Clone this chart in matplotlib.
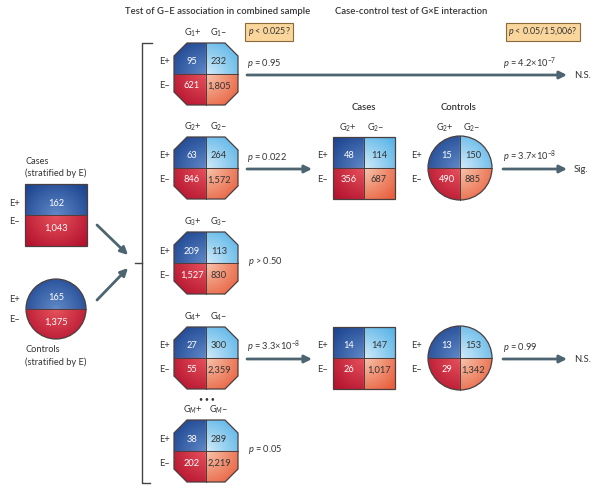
import numpy as np
import matplotlib
matplotlib.use("Agg")
import matplotlib.pyplot as plt
from matplotlib.patches import Polygon, Rectangle, Circle
from matplotlib.colors import to_rgb

plt.rcParams['font.family'] = ['Lato', 'DejaVu Sans']
plt.rcParams['mathtext.fontset'] = 'custom'
plt.rcParams['mathtext.rm'] = 'Lato'
plt.rcParams['mathtext.it'] = 'Lato:italic'

# stratified totals (E+, E-)
cases_by_E = [162, 1043]
controls_by_E = [165, 1375]

# combined-sample 2x2 tables: [E+G+, E+G-, E-G+, E-G-]
genes = ['1', '2', '3', '4', 'M']
combined = [[95, 232, 621, 1805],
            [63, 264, 846, 1572],
            [209, 113, 1527, 830],
            [27, 300, 55, 2359],
            [38, 289, 202, 2219]]
ge_p = ['= 0.95', '= 0.022', '> 0.50', '= 3.3×10$^{-8}$', '= 0.05']

# case-control tables for the genes that pass the first step
cases_tab = {1: [48, 114, 356, 687], 3: [14, 147, 26, 1017]}
controls_tab = {1: [15, 150, 490, 885], 3: [13, 153, 29, 1342]}
gxe_p = {0: '= 4.2×10$^{-7}$', 1: '= 3.7×10$^{-8}$', 3: '= 0.99'}
gxe_result = {0: 'N.S.', 1: 'Sig.', 3: 'N.S.'}

row_y = [74, 168, 263, 358, 451]

TXT = '#333333'
EDGE = '#4a3f3f'
ARROW = '#4d6570'
FS = 6.7
outer = {'tl': '#1d4590', 'tr': '#5ab4e8', 'bl': '#b5132f', 'br': '#e8603f'}
inner = {'tl': '#6089c8', 'tr': '#d2ecf9', 'bl': '#e6525c', 'br': '#f8c6ad'}

fig = plt.figure(figsize=(6.01, 4.95), dpi=100)
ax = fig.add_axes([0, 0, 1, 1])
ax.set_xlim(0, 601)
ax.set_ylim(495, 0)
ax.axis('off')


def shade(patch, cx, cy, hw, hh, split=True):
    # gradient fill: dark at the outer corner, lighter toward the centre
    n = 90
    X, Y = np.meshgrid(np.linspace(cx - hw, cx + hw, n), np.linspace(cy - hh, cy + hh, n))
    dx = (X - cx) / hw
    dy = (Y - cy) / hh
    t = np.clip(np.sqrt(dx ** 2 + dy ** 2) / 1.3, 0, 1)[..., None]
    img = np.zeros((n, n, 3))
    for key in ['tl', 'tr', 'bl', 'br']:
        top = key[0] == 't'
        m = (dy < 0) if top else (dy >= 0)
        if split:
            m = m & ((dx < 0) if key[1] == 'l' else (dx >= 0))
        elif key[1] == 'r':
            continue
        c = np.array(to_rgb(inner[key])) * (1 - t) + np.array(to_rgb(outer[key])) * t
        img[m] = c[m]
    ax.add_patch(patch)
    im = ax.imshow(img, extent=(cx - hw, cx + hw, cy + hh, cy - hh), origin='upper',
                   interpolation='bilinear', zorder=1)
    im.set_clip_path(patch)
    ax.plot([cx - hw, cx + hw], [cy, cy], color=EDGE, lw=0.7, zorder=2)
    if split:
        ax.plot([cx, cx], [cy - hh, cy + hh], color=EDGE, lw=0.7, zorder=2)


def octagon(cx, cy, hw=32, hh=31, c=13):
    x0, x1, y0, y1 = cx - hw, cx + hw, cy - hh, cy + hh
    pts = [(x0 + c, y0), (x1 - c, y0), (x1, y0 + c), (x1, y1 - c),
           (x1 - c, y1), (x0 + c, y1), (x0, y1 - c), (x0, y0 + c)]
    p = Polygon(pts, closed=True, fc='none', ec=EDGE, lw=0.9, zorder=3)
    shade(p, cx, cy, hw, hh)


def square(cx, cy, hw=31, hh=31, split=True):
    p = Rectangle((cx - hw, cy - hh), 2 * hw, 2 * hh, fc='none', ec=EDGE, lw=0.9, zorder=3)
    shade(p, cx, cy, hw, hh, split)


def circle(cx, cy, r=31, split=True):
    p = Circle((cx, cy), r, fc='none', ec=EDGE, lw=0.9, zorder=3)
    shade(p, cx, cy, r, r, split)


def cell_values(vals, cx, cy, dxl, dxr):
    pos = [(cx - dxl, cy - 12), (cx + dxr, cy - 12), (cx - dxl, cy + 12), (cx + dxr, cy + 12)]
    cols = ['white', TXT, 'white', TXT]
    for v, (x, y), col in zip(vals, pos, cols):
        ax.text(x, y, f'{v:,}', color=col, fontsize=FS, ha='center', va='center', zorder=4)


def e_labels(x, cy):
    ax.text(x, cy - 12, 'E+', fontsize=FS, color=TXT, ha='center', va='center')
    ax.text(x, cy + 12, 'E–', fontsize=FS, color=TXT, ha='center', va='center')


def g_labels(g, xl, xr, y):
    ax.text(xl, y, 'G$_{%s}$+' % g, fontsize=FS, color=TXT, ha='center', va='center')
    ax.text(xr, y, 'G$_{%s}$–' % g, fontsize=FS, color=TXT, ha='center', va='center')


def arrow(x0, y0, x1, y1):
    ax.annotate('', xy=(x1, y1), xytext=(x0, y0),
                arrowprops=dict(arrowstyle='-|>', color=ARROW, lw=2.0, mutation_scale=11,
                                shrinkA=0, shrinkB=0))


# headers
ax.text(218, 12, 'Test of G–E association in combined sample', fontsize=6.8,
        fontweight='semibold', color=TXT, ha='center', va='center')
ax.text(411, 12, 'Case-control test of G×E interaction', fontsize=6.8,
        fontweight='semibold', color=TXT, ha='center', va='center')
box = dict(boxstyle='square,pad=0.3', fc='#fad69c', ec='#8a6a3a', lw=0.8)
ax.text(269, 32, '$p$ < 0.025?', fontsize=6.4, color=TXT, ha='center', va='center', bbox=box)
ax.text(543, 32, '$p$ < 0.05/15,006?', fontsize=6.4, color=TXT, ha='center', va='center', bbox=box)

# left: stratified cases and controls
square(56, 215, split=False)
ax.text(56, 203, f'{cases_by_E[0]:,}', color='white', fontsize=FS, ha='center', va='center', zorder=4)
ax.text(56, 228, f'{cases_by_E[1]:,}', color='white', fontsize=FS, ha='center', va='center', zorder=4)
ax.text(9, 203, 'E+', fontsize=FS, color=TXT, va='center')
ax.text(9, 222, 'E–', fontsize=FS, color=TXT, va='center')
ax.text(25, 161, 'Cases', fontsize=FS, color=TXT, va='center')
ax.text(25, 173, '(stratified by E)', fontsize=FS, color=TXT, va='center')

circle(56, 309, r=30, split=False)
ax.text(56, 298, f'{controls_by_E[0]:,}', color='white', fontsize=FS, ha='center', va='center', zorder=4)
ax.text(56, 322, f'{controls_by_E[1]:,}', color='white', fontsize=FS, ha='center', va='center', zorder=4)
ax.text(9, 299, 'E+', fontsize=FS, color=TXT, va='center')
ax.text(9, 320, 'E–', fontsize=FS, color=TXT, va='center')
ax.text(25, 350, 'Controls', fontsize=FS, color=TXT, va='center')
ax.text(25, 362, '(stratified by E)', fontsize=FS, color=TXT, va='center')

arrow(97, 225, 128, 255)
arrow(97, 300, 128, 268)

# bracket
ax.plot([152, 142, 142, 150], [43, 43, 483, 483], color='#444444', lw=1.0)
ax.plot([135, 142], [263, 263], color='#444444', lw=1.0)

# combined-sample octagons
for i, g in enumerate(genes):
    cy = row_y[i]
    octagon(206, cy)
    cell_values(combined[i], 206, cy, 14, 13)
    e_labels(164, cy)
    g_labels(g, 193, 219, cy - 41)
    if i == 0:
        ax.text(247, cy - 11, '$p$ ' + ge_p[i], fontsize=FS, color=TXT, va='center')
        arrow(247, cy + 1, 567, cy + 1)
    elif i in cases_tab:
        ax.text(247, cy - 11, '$p$ ' + ge_p[i], fontsize=FS, color=TXT, va='center')
        arrow(247, cy + 1, 312, cy + 1)
    else:
        ax.text(248, cy - 1, '$p$ ' + ge_p[i], fontsize=FS, color=TXT, va='center')

ax.text(207, 399, '• • •', fontsize=5, color=TXT, ha='center', va='center')

# case-control tables
for i in cases_tab:
    cy = row_y[i]
    square(364, cy)
    cell_values(cases_tab[i], 364, cy, 15, 15)
    e_labels(323, cy)
    circle(460, cy, r=32)
    cell_values(controls_tab[i], 460, cy, 13, 13)
    e_labels(417, cy)
    if i == 1:
        ax.text(364, cy - 60, 'Cases', fontsize=6.8, fontweight='semibold', color=TXT, ha='center', va='center')
        ax.text(459, cy - 60, 'Controls', fontsize=6.8, fontweight='semibold', color=TXT, ha='center', va='center')
        g_labels(genes[i], 348, 376, cy - 40)
        g_labels(genes[i], 445, 472, cy - 40)

# G x E results
for i in gxe_p:
    cy = row_y[i]
    if i == 0:
        ax.text(503, cy - 10, '$p$ ' + gxe_p[i], fontsize=FS, color=TXT, va='center')
    else:
        ax.text(503, cy - 11, '$p$ ' + gxe_p[i], fontsize=FS, color=TXT, va='center')
        arrow(503, cy + 1, 567, cy + 1)
    ax.text(574, cy + 1, gxe_result[i], fontsize=6.8, color=TXT, va='center')

fig.savefig('out.png', dpi=100)
